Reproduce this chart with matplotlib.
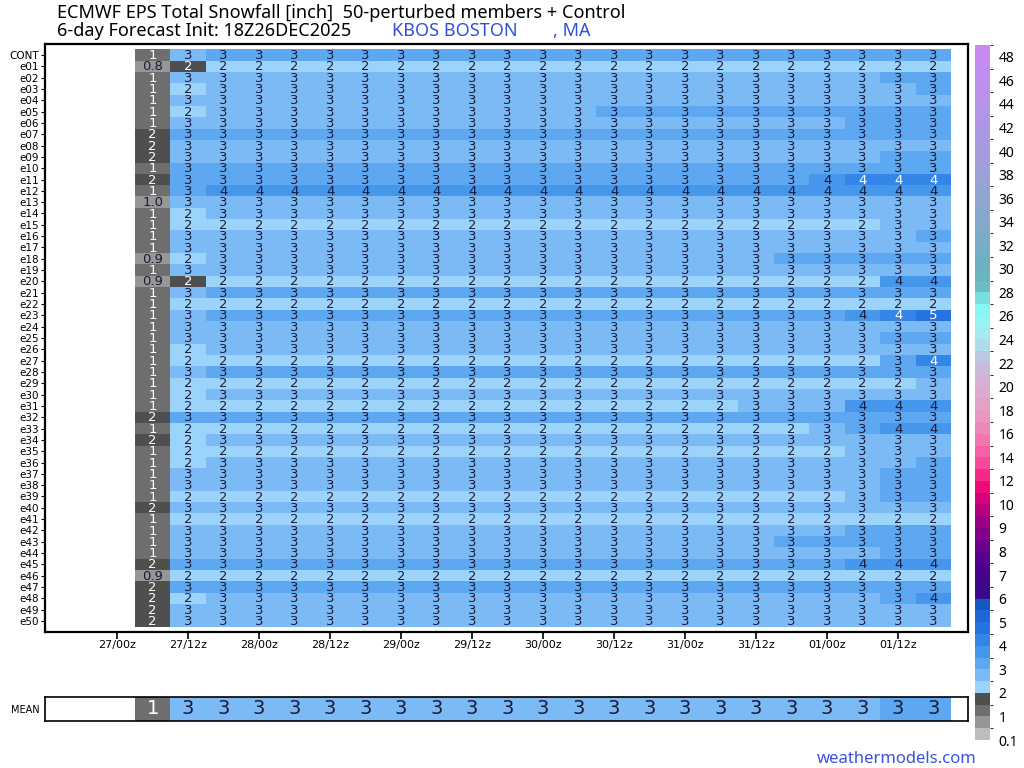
import numpy as np
import matplotlib
matplotlib.use('Agg')
import matplotlib.pyplot as plt
from matplotlib.colors import ListedColormap, BoundaryNorm
from matplotlib.cm import ScalarMappable

# member names (rows) and valid times (columns, hours after 27/00z)
members = ['CONT'] + ['e%02d' % i for i in range(1, 51)]
hours = [6, 12, 18, 24, 30, 36, 42, 48, 54, 60, 66, 72, 78, 84, 90, 96, 102, 108, 114, 120, 126, 132, 138]
tick_hours = [0, 12, 24, 36, 48, 60, 72, 84, 96, 108, 120, 132]
tick_labels = ['27/00z', '27/12z', '28/00z', '28/12z', '29/00z', '29/12z',
               '30/00z', '30/12z', '31/00z', '31/12z', '01/00z', '01/12z']

# accumulated snowfall [inch]
snow = [
    [1.2, 2.7, 3.2, 3.2, 3.2, 3.2, 3.2, 3.2, 3.2, 3.2, 3.2, 3.2, 3.2, 3.2, 3.2, 3.2, 3.2, 3.2, 3.2, 3.2, 3.2, 3.2, 3.2],  # CONT
    [0.8, 1.7, 2.2, 2.2, 2.2, 2.2, 2.2, 2.2, 2.2, 2.2, 2.2, 2.2, 2.2, 2.2, 2.2, 2.2, 2.2, 2.2, 2.2, 2.2, 2.2, 2.2, 2.2],  # e01
    [1.2, 2.7, 2.7, 2.7, 2.7, 2.7, 2.7, 2.7, 2.7, 2.7, 2.7, 2.7, 2.7, 2.7, 2.7, 2.7, 2.7, 2.7, 2.7, 2.7, 2.7, 3.2, 3.2],  # e02
    [1.2, 2.2, 2.7, 2.7, 2.7, 2.7, 2.7, 2.7, 2.7, 2.7, 2.7, 2.7, 2.7, 2.7, 2.7, 2.7, 2.7, 2.7, 2.7, 2.7, 2.7, 2.7, 3.2],  # e03
    [1.2, 2.7, 2.7, 2.7, 2.7, 2.7, 2.7, 2.7, 2.7, 2.7, 2.7, 2.7, 2.7, 2.7, 2.7, 2.7, 2.7, 2.7, 2.7, 2.7, 2.7, 2.7, 2.7],  # e04
    [1.2, 2.2, 2.7, 2.7, 2.7, 2.7, 2.7, 2.7, 2.7, 2.7, 2.7, 2.7, 2.7, 3.2, 3.2, 3.2, 3.2, 3.2, 3.2, 3.2, 3.2, 3.2, 3.2],  # e05
    [1.2, 2.7, 2.7, 2.7, 2.7, 2.7, 2.7, 2.7, 2.7, 2.7, 2.7, 2.7, 2.7, 2.7, 2.7, 2.7, 2.7, 2.7, 2.7, 2.7, 3.2, 3.2, 3.2],  # e06
    [1.7, 3.2, 3.2, 3.2, 3.2, 3.2, 3.2, 3.2, 3.2, 3.2, 3.2, 3.2, 3.2, 3.2, 3.2, 3.2, 3.2, 3.2, 3.2, 3.2, 3.2, 3.2, 3.2],  # e07
    [1.7, 2.7, 2.7, 2.7, 2.7, 2.7, 2.7, 2.7, 2.7, 2.7, 2.7, 2.7, 2.7, 2.7, 2.7, 2.7, 2.7, 2.7, 2.7, 2.7, 2.7, 2.7, 2.7],  # e08
    [1.7, 2.7, 2.7, 2.7, 2.7, 2.7, 2.7, 2.7, 2.7, 2.7, 2.7, 2.7, 2.7, 2.7, 2.7, 2.7, 2.7, 2.7, 2.7, 2.7, 2.7, 3.2, 3.2],  # e09
    [1.2, 3.2, 3.2, 3.2, 3.2, 3.2, 3.2, 3.2, 3.2, 3.2, 3.2, 3.2, 3.2, 3.2, 3.2, 3.2, 3.2, 3.2, 3.2, 3.2, 3.2, 3.2, 3.2],  # e10
    [1.7, 3.2, 3.2, 3.2, 3.2, 3.2, 3.2, 3.2, 3.2, 3.2, 3.2, 3.2, 3.2, 3.2, 3.2, 3.2, 3.2, 3.2, 3.2, 3.7, 4.2, 4.2, 4.2],  # e11
    [1.2, 3.2, 3.7, 3.7, 3.7, 3.7, 3.7, 3.7, 3.7, 3.7, 3.7, 3.7, 3.7, 3.7, 3.7, 3.7, 3.7, 3.7, 3.7, 3.7, 3.7, 3.7, 3.7],  # e12
    [0.97, 2.7, 2.7, 2.7, 2.7, 2.7, 2.7, 2.7, 2.7, 2.7, 2.7, 2.7, 2.7, 2.7, 2.7, 2.7, 2.7, 2.7, 2.7, 2.7, 2.7, 2.7, 2.7],  # e13
    [1.2, 2.2, 2.7, 2.7, 2.7, 2.7, 2.7, 2.7, 2.7, 2.7, 2.7, 2.7, 2.7, 2.7, 2.7, 2.7, 2.7, 2.7, 2.7, 2.7, 2.7, 2.7, 2.7],  # e14
    [1.2, 2.2, 2.2, 2.2, 2.2, 2.2, 2.2, 2.2, 2.2, 2.2, 2.2, 2.2, 2.2, 2.2, 2.2, 2.2, 2.2, 2.2, 2.2, 2.2, 2.2, 2.7, 2.7],  # e15
    [1.2, 2.7, 2.7, 2.7, 2.7, 2.7, 2.7, 2.7, 2.7, 2.7, 2.7, 2.7, 2.7, 2.7, 2.7, 2.7, 2.7, 2.7, 2.7, 2.7, 2.7, 2.7, 3.2],  # e16
    [1.2, 2.7, 2.7, 2.7, 2.7, 2.7, 2.7, 2.7, 2.7, 2.7, 2.7, 2.7, 2.7, 2.7, 2.7, 2.7, 2.7, 2.7, 2.7, 2.7, 2.7, 2.7, 2.7],  # e17
    [0.9, 2.2, 2.7, 2.7, 2.7, 2.7, 2.7, 2.7, 2.7, 2.7, 2.7, 2.7, 2.7, 2.7, 2.7, 2.7, 2.7, 2.7, 3.2, 3.2, 3.2, 3.2, 3.2],  # e18
    [1.2, 2.7, 2.7, 2.7, 2.7, 2.7, 2.7, 2.7, 2.7, 2.7, 2.7, 2.7, 2.7, 2.7, 2.7, 2.7, 2.7, 2.7, 2.7, 2.7, 2.7, 2.7, 2.7],  # e19
    [0.9, 1.7, 2.2, 2.2, 2.2, 2.2, 2.2, 2.2, 2.2, 2.2, 2.2, 2.2, 2.2, 2.2, 2.2, 2.2, 2.2, 2.2, 2.2, 2.2, 2.2, 3.7, 3.7],  # e20
    [1.2, 2.7, 3.2, 3.2, 3.2, 3.2, 3.2, 3.2, 3.2, 3.2, 3.2, 3.2, 3.2, 3.2, 3.2, 3.2, 3.2, 3.2, 3.2, 3.2, 3.2, 3.2, 3.2],  # e21
    [1.2, 2.2, 2.2, 2.2, 2.2, 2.2, 2.2, 2.2, 2.2, 2.2, 2.2, 2.2, 2.2, 2.2, 2.2, 2.2, 2.2, 2.2, 2.2, 2.2, 2.2, 2.2, 2.2],  # e22
    [1.2, 2.7, 3.2, 3.2, 3.2, 3.2, 3.2, 3.2, 3.2, 3.2, 3.2, 3.2, 3.2, 3.2, 3.2, 3.2, 3.2, 3.2, 3.2, 3.2, 3.7, 4.2, 4.7],  # e23
    [1.2, 2.7, 2.7, 2.7, 2.7, 2.7, 2.7, 2.7, 2.7, 2.7, 2.7, 2.7, 2.7, 2.7, 2.7, 2.7, 2.7, 2.7, 2.7, 2.7, 2.7, 2.7, 2.7],  # e24
    [1.2, 2.7, 2.7, 2.7, 2.7, 2.7, 2.7, 2.7, 2.7, 2.7, 2.7, 2.7, 2.7, 2.7, 2.7, 2.7, 2.7, 2.7, 2.7, 2.7, 2.7, 3.2, 3.2],  # e25
    [1.2, 2.2, 2.7, 2.7, 2.7, 2.7, 2.7, 2.7, 2.7, 2.7, 2.7, 2.7, 2.7, 2.7, 2.7, 2.7, 2.7, 2.7, 2.7, 2.7, 2.7, 2.7, 2.7],  # e26
    [1.2, 2.2, 2.2, 2.2, 2.2, 2.2, 2.2, 2.2, 2.2, 2.2, 2.2, 2.2, 2.2, 2.2, 2.2, 2.2, 2.2, 2.2, 2.2, 2.2, 2.2, 3.2, 4.2],  # e27
    [1.2, 2.7, 3.2, 3.2, 3.2, 3.2, 3.2, 3.2, 3.2, 3.2, 3.2, 3.2, 3.2, 3.2, 3.2, 3.2, 3.2, 3.2, 3.2, 3.2, 3.2, 3.2, 3.2],  # e28
    [1.2, 2.2, 2.2, 2.2, 2.2, 2.2, 2.2, 2.2, 2.2, 2.2, 2.2, 2.2, 2.2, 2.2, 2.2, 2.2, 2.2, 2.2, 2.2, 2.2, 2.2, 2.2, 2.7],  # e29
    [1.2, 2.2, 2.7, 2.7, 2.7, 2.7, 2.7, 2.7, 2.7, 2.7, 2.7, 2.7, 2.7, 2.7, 2.7, 2.7, 2.7, 2.7, 2.7, 2.7, 2.7, 2.7, 2.7],  # e30
    [1.2, 2.2, 2.2, 2.2, 2.2, 2.2, 2.2, 2.2, 2.2, 2.2, 2.2, 2.2, 2.2, 2.2, 2.2, 2.2, 2.2, 2.7, 2.7, 2.7, 3.7, 3.7, 3.7],  # e31
    [1.7, 3.2, 3.2, 3.2, 3.2, 3.2, 3.2, 3.2, 3.2, 3.2, 3.2, 3.2, 3.2, 3.2, 3.2, 3.2, 3.2, 3.2, 3.2, 3.2, 3.2, 3.2, 3.2],  # e32
    [1.2, 2.2, 2.2, 2.2, 2.2, 2.2, 2.2, 2.2, 2.2, 2.2, 2.2, 2.2, 2.2, 2.2, 2.2, 2.2, 2.2, 2.2, 2.2, 2.7, 3.2, 3.7, 3.9],  # e33
    [1.7, 2.2, 2.7, 2.7, 2.7, 2.7, 2.7, 2.7, 2.7, 2.7, 2.7, 2.7, 2.7, 2.7, 2.7, 2.7, 2.7, 2.7, 2.7, 2.7, 2.7, 2.7, 2.7],  # e34
    [1.2, 2.2, 2.2, 2.2, 2.2, 2.2, 2.2, 2.2, 2.2, 2.2, 2.2, 2.2, 2.2, 2.2, 2.2, 2.2, 2.2, 2.2, 2.2, 2.2, 2.7, 2.7, 2.7],  # e35
    [1.2, 2.2, 2.7, 2.7, 2.7, 2.7, 2.7, 2.7, 2.7, 2.7, 2.7, 2.7, 2.7, 2.7, 2.7, 2.7, 2.7, 2.7, 2.7, 2.7, 2.7, 2.7, 3.2],  # e36
    [1.2, 2.7, 2.7, 2.7, 2.7, 2.7, 2.7, 2.7, 2.7, 2.7, 2.7, 2.7, 2.7, 2.7, 2.7, 2.7, 2.7, 2.7, 2.7, 2.7, 2.7, 3.2, 3.2],  # e37
    [1.2, 2.7, 2.7, 2.7, 2.7, 2.7, 2.7, 2.7, 2.7, 2.7, 2.7, 2.7, 2.7, 2.7, 2.7, 2.7, 2.7, 2.7, 2.7, 2.7, 2.7, 3.2, 3.2],  # e38
    [1.2, 2.2, 2.2, 2.2, 2.2, 2.2, 2.2, 2.2, 2.2, 2.2, 2.2, 2.2, 2.2, 2.2, 2.2, 2.2, 2.2, 2.2, 2.2, 2.2, 2.7, 3.2, 3.2],  # e39
    [1.7, 2.7, 2.7, 2.7, 2.7, 2.7, 2.7, 2.7, 2.7, 2.7, 2.7, 2.7, 2.7, 2.7, 2.7, 2.7, 2.7, 2.7, 2.7, 2.7, 2.7, 2.7, 2.7],  # e40
    [1.2, 2.2, 2.2, 2.2, 2.2, 2.2, 2.2, 2.2, 2.2, 2.2, 2.2, 2.2, 2.2, 2.2, 2.2, 2.2, 2.2, 2.2, 2.2, 2.2, 2.2, 2.2, 2.2],  # e41
    [1.2, 2.7, 2.7, 2.7, 2.7, 2.7, 2.7, 2.7, 2.7, 2.7, 2.7, 2.7, 2.7, 2.7, 2.7, 2.7, 2.7, 2.7, 2.7, 2.7, 3.2, 3.2, 3.2],  # e42
    [1.2, 2.7, 2.7, 2.7, 2.7, 2.7, 2.7, 2.7, 2.7, 2.7, 2.7, 2.7, 2.7, 2.7, 2.7, 2.7, 2.7, 2.7, 3.2, 3.2, 3.2, 3.2, 3.2],  # e43
    [1.2, 2.7, 2.7, 2.7, 2.7, 2.7, 2.7, 2.7, 2.7, 2.7, 2.7, 2.7, 2.7, 2.7, 2.7, 2.7, 2.7, 2.7, 2.7, 2.7, 2.7, 3.2, 3.2],  # e44
    [1.7, 3.2, 3.2, 3.2, 3.2, 3.2, 3.2, 3.2, 3.2, 3.2, 3.2, 3.2, 3.2, 3.2, 3.2, 3.2, 3.2, 3.2, 3.2, 3.2, 3.7, 3.7, 3.7],  # e45
    [0.9, 2.2, 2.2, 2.2, 2.2, 2.2, 2.2, 2.2, 2.2, 2.2, 2.2, 2.2, 2.2, 2.2, 2.2, 2.2, 2.2, 2.2, 2.2, 2.2, 2.2, 2.2, 2.2],  # e46
    [1.7, 3.2, 3.2, 3.2, 3.2, 3.2, 3.2, 3.2, 3.2, 3.2, 3.2, 3.2, 3.2, 3.2, 3.2, 3.2, 3.2, 3.2, 3.2, 3.2, 3.2, 3.2, 3.2],  # e47
    [1.7, 2.2, 2.7, 2.7, 2.7, 2.7, 2.7, 2.7, 2.7, 2.7, 2.7, 2.7, 2.7, 2.7, 2.7, 2.7, 2.7, 2.7, 2.7, 2.7, 2.7, 3.2, 3.7],  # e48
    [1.7, 2.7, 2.7, 2.7, 2.7, 2.7, 2.7, 2.7, 2.7, 2.7, 2.7, 2.7, 2.7, 2.7, 2.7, 2.7, 2.7, 2.7, 2.7, 2.7, 2.7, 2.7, 2.7],  # e49
    [1.7, 2.7, 2.7, 2.7, 2.7, 2.7, 2.7, 2.7, 2.7, 2.7, 2.7, 2.7, 2.7, 2.7, 2.7, 2.7, 2.7, 2.7, 2.7, 2.7, 2.7, 2.7, 2.7],  # e50
]
mean_snow = [1.2, 2.7, 2.7, 2.7, 2.7, 2.7, 2.7, 2.7, 2.7, 2.7, 2.7, 2.7, 2.7, 2.7, 2.7, 2.7, 2.7, 2.7, 2.7, 2.7, 2.7, 3.2, 3.2]

# colour scale
levels = [0.1, 0.5, 1, 1.5, 2, 2.5, 3, 3.5, 4, 4.5, 5, 5.5, 6, 6.5, 7, 7.5, 8, 8.5, 9, 9.5, 10,
          11, 12, 13, 14, 15, 16, 17, 18, 19, 20, 21, 22, 23, 24, 25, 26, 27, 28, 29, 30,
          31, 32, 33, 34, 35, 36, 37, 38, 39, 40, 41, 42, 43, 44, 45, 46, 47, 48, 50]
colors = ['#bdbdbd', '#969696', '#6e6e6e', '#4f4f4f', '#9cd3fa', '#7bbaf5', '#5da8f0', '#4696ec',
          '#3385e8', '#2674e0', '#1f67d8', '#1558c4', '#3a0a8c', '#42068c', '#4c0090', '#5a008e',
          '#6a008c', '#82008a', '#9a0086', '#b8007e', '#d80078', '#ef0a7a', '#f52a88', '#f64a98',
          '#f660a6', '#f276b0', '#ec88ba', '#e898c2', '#e2a2c8', '#dcaacc', '#d4b0d2', '#c8bad8',
          '#bcc8e0', '#b0dce8', '#a4eaf0', '#94f4f4', '#88f6f4', '#78e0dc', '#6cbcc4', '#6ab4c0',
          '#6eb0c2', '#74aec4', '#7aacc6', '#80aac8', '#86a8cc', '#8ca6ce', '#92a4d2', '#98a2d6',
          '#9ea0da', '#a49cdc', '#a89ade', '#ac98e2', '#b096e6', '#b494e8', '#b892ea', '#bc90ec',
          '#c08eee', '#c48cf0', '#c88af2']
cb_ticks = [0.1, 1, 2, 3, 4, 5, 6, 7, 8, 9, 10, 12, 14, 16, 18, 20, 22, 24, 26, 28, 30,
            32, 34, 36, 38, 40, 42, 44, 46, 48]

cmap = ListedColormap(colors)
norm = BoundaryNorm(levels, cmap.N)

narrow = ['Liberation Sans Narrow', 'DejaVu Sans']
dark = '#1c1c3a'


def cell_label(v):
    if v < 1:
        return '%.1f' % v
    return '%d' % int(v + 0.5)


def cell_color(v):
    if 1 <= v < 2 or v >= 4:
        return 'white'
    return dark


W, H = 1024, 768
fig = plt.figure(figsize=(10.24, 7.68), dpi=100)

hrs = np.array(hours)
xedges = np.append(hrs - 3, hrs[-1] + 3)

# main member grid
ax = fig.add_axes([45 / W, 1 - 632 / H, 923 / W, 588 / H])
data = np.array(snow)
yedges = np.arange(len(members) + 1) - 0.5
ax.pcolormesh(xedges, yedges, data, cmap=cmap, norm=norm)
for i in range(data.shape[0]):
    for j in range(data.shape[1]):
        v = data[i, j]
        ax.text(hrs[j], i + 0.05, cell_label(v), ha='center', va='center',
                fontsize=9.5, family=narrow, color=cell_color(v))
ax.set_xlim(-12.2, 143.8)
ax.set_ylim(50.97, -0.97)
ax.set_yticks(range(len(members)))
ax.set_yticklabels(members, fontsize=7.5)
ax.set_xticks(tick_hours)
ax.set_xticklabels(tick_labels, fontsize=8)
ax.tick_params(axis='y', length=3, width=0.8, pad=1.5)
ax.tick_params(axis='x', length=5, width=1.2, pad=1)
for s in ax.spines.values():
    s.set_linewidth(1.6)

# ensemble mean strip
axm = fig.add_axes([45 / W, 1 - 721 / H, 923 / W, 24 / H])
axm.pcolormesh(xedges, [-0.5, 0.5], np.array([mean_snow]), cmap=cmap, norm=norm)
for j, v in enumerate(mean_snow):
    axm.text(hrs[j], 0.03, cell_label(v), ha='center', va='center',
             fontsize=14, family=narrow, color=cell_color(v))
axm.set_xlim(-12.2, 143.8)
axm.set_ylim(-0.5, 0.5)
axm.set_xticks([])
axm.set_yticks([0])
axm.set_yticklabels(['MEAN'], fontsize=7, family=narrow)
axm.tick_params(axis='y', length=0, pad=4)
for s in axm.spines.values():
    s.set_linewidth(1.2)

# colour bar
cax = fig.add_axes([975 / W, 1 - 740 / H, 15 / W, 695 / H])
cb = fig.colorbar(ScalarMappable(norm=norm, cmap=cmap), cax=cax, ticks=cb_ticks)
cb.outline.set_visible(False)
cb.set_ticklabels(['0.1'] + ['%d' % t for t in cb_ticks[1:]])
cax.tick_params(length=0, labelsize=10, pad=6)
for lab in cax.get_yticklabels():
    lab.set_family('Noto Sans')

# titles
fig.text(57 / W, 1 - 13 / H, 'ECMWF EPS Total Snowfall [inch]  50-perturbed members + Control',
         fontsize=13, family='Noto Sans', va='center', ha='left')
fig.text(57 / W, 1 - 31 / H, '6-day Forecast Init: 18Z26DEC2025',
         fontsize=13, family='Noto Sans', va='center', ha='left')
fig.text(392 / W, 1 - 31 / H, 'KBOS BOSTON', fontsize=13, family='Noto Sans',
         va='center', ha='left', color='#3050e0')
fig.text(553 / W, 1 - 31 / H, ', MA', fontsize=13, family='Noto Sans',
         va='center', ha='left', color='#3050e0')
fig.text(977 / W, 1 - 759 / H, 'weathermodels.com', fontsize=12, family='Noto Sans',
         va='center', ha='right', color='#3a50e0')

fig.savefig('out.png', dpi=100)
